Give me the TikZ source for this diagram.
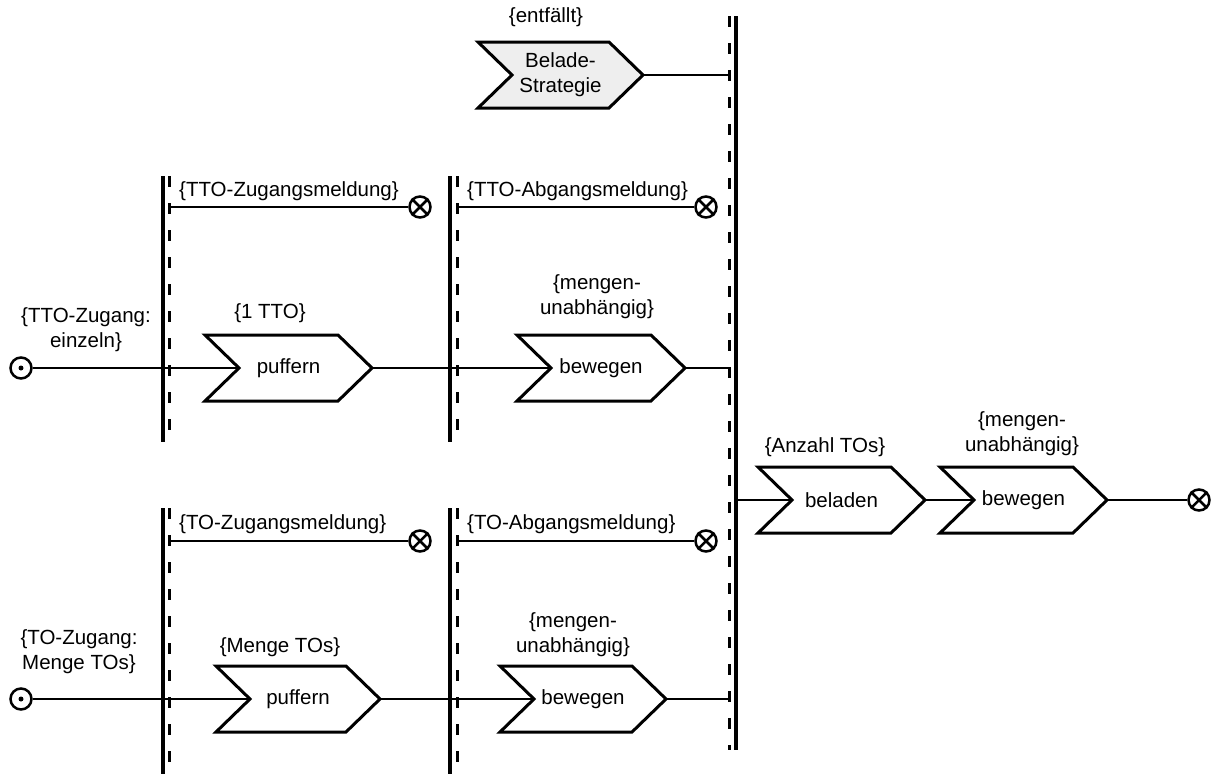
\documentclass[tikz,border=0pt]{standalone}
\usepackage{fontspec}
\setmainfont{Liberation Sans}
\begin{document}
\begin{tikzpicture}[x=1pt,y=-1pt,
  txt/.style={inner sep=0pt,align=center,font=\fontsize{20.5}{25}\selectfont},
  mtxt/.style={inner sep=0pt,anchor=west,font=\fontsize{20.5}{25}\selectfont},
  chev/.style={draw,line width=3pt,line join=miter},
  conn/.style={line width=2.5pt},
  solidbar/.style={line width=3.5pt},
  dashbar/.style={line width=3pt,dash pattern=on 11pt off 16pt},
  sink/.style={circle,draw,line width=2.5pt,minimum size=21pt,inner sep=0pt},
  source/.style={circle,draw,line width=2.5pt,minimum size=21pt,inner sep=0pt}]
\useasboundingbox (0,0) rectangle (1214,774);

% chevron: name, left x, centre y, tip x, text, extra style
\newcommand\chev[6]{%
  \coordinate (#1-in) at ({#2+34},{#3});
  \coordinate (#1-out) at ({#4},{#3});
  \draw[chev,#6] (#2,{#3-33}) -- ({#4-34},{#3-33}) -- (#1-out)
     -- ({#4-34},{#3+33}) -- (#2,{#3+33}) -- (#1-in) -- cycle;
  \node[txt] (#1) at ({(#2+#4)/2},{#3}) {#5};
}
\newcommand\sinksym[2]{%
  \node[sink] (#1) at (#2) {};
  \draw[line width=2.5pt] (#1.north east) -- (#1.south west)
                          (#1.north west) -- (#1.south east);
}
\newcommand\sourcesym[2]{%
  \node[source] (#1) at (#2) {};
  \fill (#1.center) circle (2.5);
}

% swimlane bars: solid line with dashed companion
\draw[solidbar] (163,176) -- (163,442);
\draw[dashbar]  (169.5,176) -- (169.5,442);
\draw[solidbar] (450,176) -- (450,442);
\draw[dashbar]  (457,176) -- (457,442);
\draw[solidbar] (163,508) -- (163,774);
\draw[dashbar]  (169.5,508) -- (169.5,774);
\draw[solidbar] (450,508) -- (450,774);
\draw[dashbar]  (457,508) -- (457,774);
\draw[dashbar]  (729,16) -- (729,750);
\draw[solidbar] (736,16) -- (736,750);

% junction points on the bars
\coordinate (j1a) at (169.5,207);
\coordinate (j2a) at (457,207);
\coordinate (j1b) at (169.5,541);
\coordinate (j2b) at (457,541);
\coordinate (jbs) at (729,75);
\coordinate (jbt) at (729,368);
\coordinate (jbb) at (729,699);
\coordinate (jout) at (736,500);

% process steps
\chev{strat}{478}{75}{643}{Belade-\\Strategie}{fill=gray!13}
\chev{puf1}{205}{368}{372}{puffern}{}
\chev{bew1}{517}{368}{685}{bewegen}{}
\chev{puf2}{216}{699}{380}{puffern}{}
\chev{bew2}{500}{699}{666}{bewegen}{}
\chev{bel}{758}{500}{925}{beladen}{}
\chev{bew3}{940}{500}{1107}{bewegen}{}

% annotations
\node[txt] (l-strat) at (546,17) {\{entfällt\}};
\node[txt] (l-puf1) at (270,313) {\{1 TTO\}};
\node[txt] (l-bew1) at (597,297) {\{mengen-\\unabhängig\}};
\node[txt] (l-puf2) at (280,647) {\{Menge TOs\}};
\node[txt] (l-bew2) at (573,635) {\{mengen-\\unabhängig\}};
\node[txt] (l-bel) at (825,447) {\{Anzahl TOs\}};
\node[txt] (l-bew3) at (1022,434) {\{mengen-\\unabhängig\}};
\node[txt] (l-src1) at (86,330) {\{TTO-Zugang:\\einzeln\}};
\node[txt] (l-src2) at (79,652) {\{TO-Zugang:\\Menge TOs\}};
\node[mtxt] (m1) at (179,191) {\{TTO-Zugangsmeldung\}};
\node[mtxt] (m2) at (467,191) {\{TTO-Abgangsmeldung\}};
\node[mtxt] (m3) at (179,524) {\{TO-Zugangsmeldung\}};
\node[mtxt] (m4) at (467,524) {\{TO-Abgangsmeldung\}};

% start and end events
\sourcesym{src1}{21,368}
\sourcesym{src2}{21,699}
\sinksym{k1}{420,207}
\sinksym{k2}{706,207}
\sinksym{k3}{420,541}
\sinksym{k4}{706,541}
\sinksym{k5}{1199,500}

% flows
\draw[conn] (src1) -- (puf1-in);
\draw[conn] (puf1-out) -- (bew1-in);
\draw[conn] (bew1-out) -- (jbt);
\draw[conn] (strat-out) -- (jbs);
\draw[conn] (src2) -- (puf2-in);
\draw[conn] (puf2-out) -- (bew2-in);
\draw[conn] (bew2-out) -- (jbb);
\draw[conn] (jout) -- (bel-in);
\draw[conn] (bel-out) -- (bew3-in);
\draw[conn] (bew3-out) -- (k5);
\draw[conn] (j1a) -- (k1);
\draw[conn] (j2a) -- (k2);
\draw[conn] (j1b) -- (k3);
\draw[conn] (j2b) -- (k4);
\end{tikzpicture}
\end{document}
